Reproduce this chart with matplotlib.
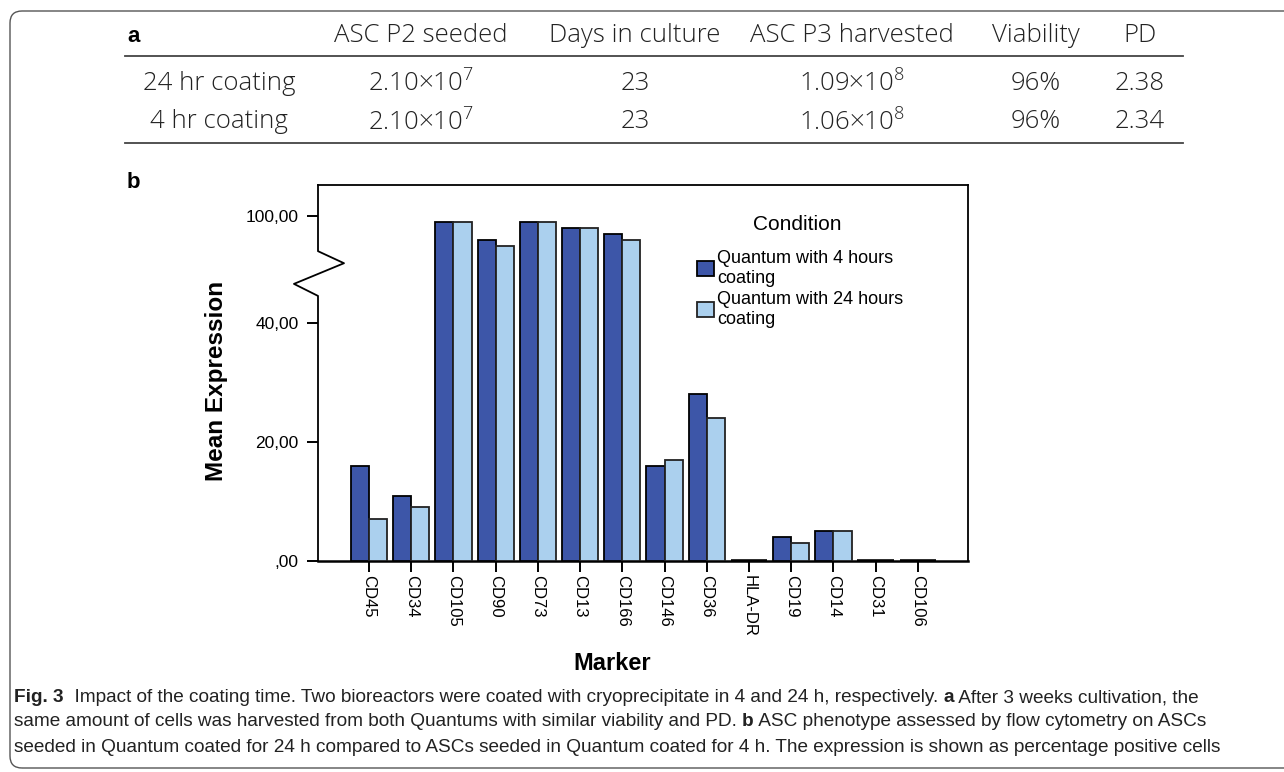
import numpy as np
import matplotlib
matplotlib.use("Agg")
import matplotlib.pyplot as plt
from matplotlib.patches import FancyBboxPatch
from matplotlib.lines import Line2D

# === data ===
markers = ["CD45", "CD34", "CD105", "CD90", "CD73", "CD13", "CD166",
           "CD146", "CD36", "HLA-DR", "CD19", "CD14", "CD31", "CD106"]
coat_4h = [16, 11, 99, 96, 99, 98, 97, 16, 28, 0, 4, 5, 0, 0]
coat_24h = [7, 9, 99, 95, 99, 98, 96, 17, 24, 0, 3, 5, 0, 0]
series_labels = ["Quantum with 4 hours\ncoating", "Quantum with 24 hours\ncoating"]
ytick_vals = [0, 20, 40, 100]
ytick_labels = [",00", "20,00", "40,00", "100,00"]

table_header = ["ASC P2 seeded", "Days in culture", "ASC P3 harvested", "Viability", "PD"]
table_rows = [
    ["24 hr coating", r"2.10×10$^{7}$", "23", r"1.09×10$^{8}$", "96%", "2.38"],
    ["4 hr coating", r"2.10×10$^{7}$", "23", r"1.06×10$^{8}$", "96%", "2.34"],
]

W, H = 1284, 772
fig = plt.figure(figsize=(W / 100, H / 100), dpi=100)


def px(x, y):
    return x / W, 1 - y / H


SANS = ["Liberation Sans", "DejaVu Sans"]
TAB = ["Open Sans", "DejaVu Sans"]
plt.rcParams["mathtext.fontset"] = "custom"
plt.rcParams["mathtext.rm"] = "Open Sans:light"

# outer rounded frame
frame = FancyBboxPatch((10, 4), 1400, 757, boxstyle="round,pad=0,rounding_size=12",
                       transform=None, fill=False, edgecolor="#555555", lw=1.0)
fig.patches.append(frame)

# === table (a) ===
fig.text(*px(127, 36), "a", fontsize=16, fontweight="bold", family=SANS, va="center", ha="left")
col_x = [219, 421, 635, 852, 1036, 1140]
for cx, h in zip(col_x[1:], table_header):
    fig.text(*px(cx, 36), h, fontsize=18.5, fontweight="light", family=TAB,
             ha="center", va="center", color="#222222")
for ry, row in zip([83, 122], table_rows):
    for cx, val in zip(col_x, row):
        fig.text(*px(cx, ry), val, fontsize=18.5, fontweight="light", family=TAB,
                 ha="center", va="center", color="#222222")
for ly in [56, 143]:
    fig.add_artist(Line2D([125 / W, 1183 / W], [1 - ly / H] * 2, color="#444444", lw=1.3))

fig.text(*px(127, 183), "b", fontsize=16, fontweight="bold", family=SANS, va="center", ha="left")

# === bar chart (b) ===
ax = fig.add_axes([318 / W, 1 - 561 / H, 650 / W, 376 / H])


def fwd(v):
    v = np.asarray(v, dtype=float)
    return np.where(v <= 40, v, np.where(v <= 90, 40 + (v - 40) * 0.16, v - 42))


def inv(t):
    t = np.asarray(t, dtype=float)
    return np.where(t <= 40, t, np.where(t <= 48, 40 + (t - 40) / 0.16, t + 42))


ax.set_yscale("function", functions=(fwd, inv))

x = np.arange(len(markers))
bw = 0.43
b1 = ax.bar(x - bw / 2, coat_4h, bw, color="#3d56a8", edgecolor="black", lw=1.3,
            label=series_labels[0], zorder=3)
b2 = ax.bar(x + bw / 2, coat_24h, bw, color="#abd0ee", edgecolor="#222222", lw=1.3,
            label=series_labels[1], zorder=3)
# empty groups show up as a heavy black stroke on the baseline
for bars in (b1, b2):
    for r in bars:
        if r.get_height() == 0:
            r.set_linewidth(2.6)
            r.set_edgecolor("black")

ax.set_xlim(-1.21, 13 + 1.19)
ax.set_ylim(0, 105.2)
ax.set_yticks(ytick_vals)
ax.set_yticklabels(ytick_labels, family=SANS, fontsize=12.5)
ax.set_xticks(x)
ax.set_xticklabels(markers, rotation=-90, family=SANS, fontsize=12)
ax.tick_params(axis="y", length=8, width=1.4, pad=6)
ax.tick_params(axis="x", length=8, width=1.4, pad=2)
ax.yaxis.set_minor_locator(matplotlib.ticker.NullLocator())

for s in ["top", "right"]:
    ax.spines[s].set_linewidth(1.3)
ax.spines["bottom"].set_linewidth(1.8)
ax.spines["left"].set_visible(False)

# broken left axis with zigzag
brk = Line2D([0, 0, -0.037, 0.04, 0, 0], [0, 0.705, 0.737, 0.792, 0.824, 1.0],
             transform=ax.transAxes, color="black", lw=1.3, clip_on=False)
ax.add_line(brk)

leg = ax.legend(handles=[b1, b2], loc="upper left",
                bbox_to_anchor=(0.583, 0.826), frameon=False,
                prop={"family": SANS, "size": 13},
                handlelength=0.95, handleheight=0.9, handletextpad=0.15,
                labelspacing=0.25, borderpad=0, borderaxespad=0)
for t in leg.get_texts():
    t.set_linespacing(1.18)
fig.text(*px(797, 225), "Condition", fontsize=15, family=SANS, ha="center", va="center")

fig.text(*px(217, 381), "Mean Expression", rotation=90, fontsize=17.5, fontweight="bold",
         family=SANS, ha="center", va="center")
fig.text(*px(612, 664), "Marker", fontsize=17, fontweight="bold", family=SANS,
         ha="center", va="center")

# === caption ===
cap_lines = [
    [("Fig. 3", "bold"), ("  Impact of the coating time. Two bioreactors were coated with cryoprecipitate in 4 and 24 h, respectively. ", "normal"),
     ("a", "bold"), (" After 3 weeks cultivation, the", "normal")],
    [("same amount of cells was harvested from both Quantums with similar viability and PD. ", "normal"),
     ("b", "bold"), (" ASC phenotype assessed by flow cytometry on ASCs", "normal")],
    [("seeded in Quantum coated for 24 h compared to ASCs seeded in Quantum coated for 4 h. The expression is shown as percentage positive cells", "normal")],
]
CAP = 13.7
for ly, parts in zip([698, 722, 747], cap_lines):
    prev = None
    for txt, wt in parts:
        if prev is None:
            prev = fig.text(*px(14, ly), txt, fontsize=CAP, fontweight=wt, family=SANS,
                            ha="left", va="center", color="#222222")
        else:
            prev = plt.annotate(txt, xy=(1, 0), xycoords=prev, fontsize=CAP, fontweight=wt,
                                family=SANS, ha="left", va="bottom", color="#222222",
                                annotation_clip=False)

fig.savefig("out.png", dpi=100)
